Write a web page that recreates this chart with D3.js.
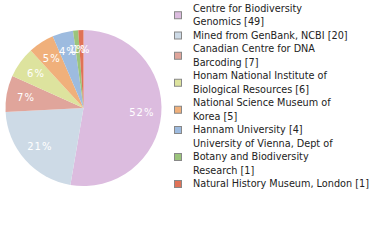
<!DOCTYPE html>
<html>
<head>
<meta charset="utf-8">
<script src="https://cdn.jsdelivr.net/npm/d3@7"></script>
<style>
  body { margin: 0; background: #fff; }
  text { font-family: "DejaVu Sans", Verdana, sans-serif; }
</style>
</head>
<body>
<div id="chart"></div>
<script>
// institutions and record counts
var labels = [
  ["Centre for Biodiversity", "Genomics [49]"],
  ["Mined from GenBank, NCBI [20]"],
  ["Canadian Centre for DNA", "Barcoding [7]"],
  ["Honam National Institute of", "Biological Resources [6]"],
  ["National Science Museum of", "Korea [5]"],
  ["Hannam University [4]"],
  ["University of Vienna, Dept of", "Botany and Biodiversity", "Research [1]"],
  ["Natural History Museum, London [1]"]
];
var counts = [49, 20, 7, 6, 5, 4, 1, 1];
var colors = ["#dcbcdf", "#cddae6", "#e0a59b", "#dde39e", "#f0b07b", "#9dbbdf", "#9bc47b", "#e07257"];

var width = 380, height = 240;
var cx = 83.5, cy = 108, radius = 78;

var svg = d3.select("#chart")
  .append("svg")
    .attr("width", width)
    .attr("height", height);

var total = d3.sum(counts);

var pie = d3.pie().sort(null).value(function(d) { return d; });
var arc = d3.arc().innerRadius(0).outerRadius(radius);
var labelArc = d3.arc().innerRadius(radius * 0.75).outerRadius(radius * 0.75);

var g = svg.append("g")
  .attr("transform", "translate(" + cx + "," + cy + ")");

var slices = pie(counts);

g.selectAll("path")
  .data(slices)
  .enter().append("path")
    .attr("d", arc)
    .attr("fill", function(d, i) { return colors[i]; });

// percentage labels
g.selectAll("text")
  .data(slices)
  .enter().append("text")
    .attr("transform", function(d) { return "translate(" + labelArc.centroid(d) + ")"; })
    .attr("text-anchor", "middle")
    .attr("dy", "0.35em")
    .attr("fill", "#fff")
    .style("font-size", "10px")
    .style("letter-spacing", "1px")
    .text(function(d) { return Math.floor(d.value / total * 100) + "%"; });

// legend: one line every 13.5px, square centred on its item
var lineH = 13.5, firstLine = 8.5;
var legend = svg.append("g");
var lineNo = 0;
labels.forEach(function(lines, i) {
  var mid = firstLine + lineH * (lineNo + (lines.length - 1) / 2);
  legend.append("rect")
    .attr("x", 174.5)
    .attr("y", mid - 3.5)
    .attr("width", 7)
    .attr("height", 7)
    .attr("fill", colors[i])
    .attr("stroke", "#888")
    .attr("stroke-width", 1);
  lines.forEach(function(t, j) {
    legend.append("text")
      .attr("x", 193)
      .attr("y", firstLine + lineH * (lineNo + j))
      .attr("dy", "0.35em")
      .attr("fill", "#222")
      .style("font-size", "9.7px")
      .text(t);
  });
  lineNo += lines.length;
});
</script>
</body>
</html>
